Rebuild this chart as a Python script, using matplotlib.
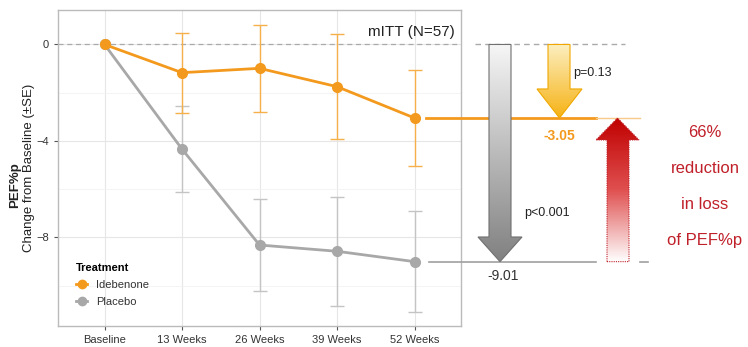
import numpy as np
import matplotlib
matplotlib.use("Agg")
import matplotlib.pyplot as plt
from matplotlib.patches import Polygon
from matplotlib.lines import Line2D
from matplotlib.colors import LinearSegmentedColormap

plt.rcParams['font.family'] = ['Liberation Sans', 'DejaVu Sans']

# ---- data ----
visits = ["Baseline", "13 Weeks", "26 Weeks", "39 Weeks", "52 Weeks"]
idebenone_mean = [0.0, -1.17, -0.99, -1.75, -3.05]
idebenone_se = [0.0, 1.66, 1.80, 2.18, 2.00]
placebo_mean = [0.0, -4.34, -8.32, -8.58, -9.01]
placebo_se = [0.0, 1.77, 1.90, 2.26, 2.09]
y_ticks = [0, -4, -8]
final_ideb = -3.05
final_plac = -9.01
p_ideb = "p=0.13"
p_plac = "p<0.001"
reduction_text = "66%\nreduction\nin loss\nof PEF%p"

ORANGE = "#F39A1E"
ORANGE_ERR = "#F5B04A"
GRAY = "#A8A8A8"
GRAY_ERR = "#C4C4C4"
RED = "#C0202A"

W, H = 748, 347
fig = plt.figure(figsize=(W / 100, H / 100), dpi=100)

pl, pr, pt, pb = 58, 461, 10, 326
ax = fig.add_axes([pl / W, (H - pb) / H, (pr - pl) / W, (pb - pt) / H])
ylim = (-11.68, 1.43)
x = np.arange(len(visits))
ax.set_xlim(-0.6, 4.6)
ax.set_ylim(*ylim)

ax.set_yticks(y_ticks)
ax.set_yticks([-2, -6, -10], minor=True)
ax.set_xticks(x)
ax.set_xticklabels(visits)
ax.tick_params(axis='both', labelsize=8, color="#555555", length=3, labelcolor="#333333")
ax.tick_params(axis='y', which='minor', length=0)
ax.grid(True, which='major', color="#E6E6E6", lw=0.8)
ax.grid(True, which='minor', axis='y', color="#F2F2F2", lw=0.6)
ax.set_axisbelow(True)
for s in ax.spines.values():
    s.set_color("#BBBBBB")
    s.set_linewidth(1.0)

ax.axhline(0, color="#AAAAAA", ls=(0, (4, 3)), lw=0.9, zorder=1)

idx = x[1:]
ax.errorbar(idx, np.array(placebo_mean)[1:], yerr=np.array(placebo_se)[1:], fmt='none',
            ecolor=GRAY_ERR, elinewidth=1.0, capsize=5, capthick=1.0, zorder=2)
ax.errorbar(idx, np.array(idebenone_mean)[1:], yerr=np.array(idebenone_se)[1:], fmt='none',
            ecolor=ORANGE_ERR, elinewidth=1.0, capsize=5, capthick=1.0, zorder=3)
ax.plot(x, placebo_mean, color=GRAY, lw=2, marker='o', ms=7, zorder=4)
ax.plot(x, idebenone_mean, color=ORANGE, lw=2, marker='o', ms=7, zorder=5)

ax.text(0.985, 0.93, "mITT (N=57)", transform=ax.transAxes, ha='right', va='center',
        fontsize=11, color="#222222")

handles = [Line2D([], [], color=ORANGE, marker='o', ms=6, lw=2),
           Line2D([], [], color=GRAY, marker='o', ms=6, lw=2)]
leg = ax.legend(handles, ["Idebenone", "Placebo"], title="Treatment", loc='lower left',
                bbox_to_anchor=(0.02, 0.03), frameon=False, fontsize=8,
                handlelength=1.0, handletextpad=0.8, labelspacing=0.6,
                alignment='left')
leg.get_title().set_fontweight('bold')
leg.get_title().set_fontsize(8)
for t in leg.get_texts():
    t.set_color("#333333")

fig.text(15 / W, 1 - 185 / H, "PEF%p", rotation=90, ha='center', va='center',
         fontsize=9.5, fontweight='bold', color="#222222")
fig.text(29 / W, 1 - 168 / H, "Change from Baseline (±SE)", rotation=90, ha='center',
         va='center', fontsize=9.5, color="#222222")

# ---- overlay for annotation arrows ----
ov = fig.add_axes([0, (H - pb) / H, 1, (pb - pt) / H], zorder=10)
ov.patch.set_alpha(0)
ov.axis('off')


def gradient_arrow(axo, xs0, xs1, xh0, xh1, y_start, y_base, y_tip, cmap_cols, edge, ls='-'):
    xc = (xh0 + xh1) / 2
    verts = [(xs0, y_start), (xs1, y_start), (xs1, y_base), (xh1, y_base),
             (xc, y_tip), (xh0, y_base), (xs0, y_base)]
    poly = Polygon(verts, closed=True, facecolor='none', edgecolor=edge, lw=0.8, ls=ls, zorder=6)
    axo.add_patch(poly)
    cm = LinearSegmentedColormap.from_list("g", cmap_cols)
    grad = np.linspace(0, 1, 256).reshape(-1, 1)
    if y_start > y_tip:
        ext = [xh0, xh1, y_tip, y_start]
        img = axo.imshow(grad, cmap=cm, extent=ext, origin='upper', aspect='auto', zorder=5)
    else:
        ext = [xh0, xh1, y_start, y_tip]
        img = axo.imshow(grad, cmap=cm, extent=ext, origin='lower', aspect='auto', zorder=5)
    img.set_clip_path(poly)


def py(pix):
    return -(pix - 44.5) / 24.1

# horizontal reference lines
ov.plot([426, 596], [final_ideb, final_ideb], color=ORANGE, lw=2, zorder=4)
ov.plot([596, 640], [final_ideb, final_ideb], color="#F8C98A", lw=1, zorder=4)
ov.plot([429, 596], [final_plac, final_plac], color="#A0A0A0", lw=1.2, zorder=4)
ov.plot([640, 648], [final_plac, final_plac], color="#A0A0A0", lw=1.2, zorder=4)
ov.plot([475, 625], [0, 0], color="#AAAAAA", lw=1, ls=(0, (4, 3)), zorder=4)

# gray arrow (placebo)
gradient_arrow(ov, 489, 511, 478, 522, 0, py(237), final_plac,
               ["#F6F6F6", "#808080"], "#707070")
# orange arrow (idebenone)
gradient_arrow(ov, 548, 570, 537, 582, 0, py(89), final_ideb,
               ["#FCEFC0", "#F6B214"], "#F0A800")
# red arrow (reduction)
gradient_arrow(ov, 607, 629, 596, 639, final_plac, py(140), final_ideb,
               ["#FFFFFF", "#E05050", "#C00000"], RED, ls=(0, (1, 1)))

ov.set_xlim(0, W)
ov.set_ylim(*ylim)

ov.text(573, py(73), p_ideb, ha='left', va='center', fontsize=9, color="#222222")
ov.text(559, py(136), f"{final_ideb:.2f}", ha='center', va='center', fontsize=10,
        fontweight='bold', color=ORANGE)
ov.text(524, py(213), p_plac, ha='left', va='center', fontsize=9, color="#222222")
ov.text(503, py(276), f"{final_plac:.2f}", ha='center', va='center', fontsize=10,
        color="#333333")
ov.text(705, py(186.5), reduction_text, ha='center', va='center', fontsize=12,
        color=RED, linespacing=2.75)

fig.savefig("out.png", dpi=100)
